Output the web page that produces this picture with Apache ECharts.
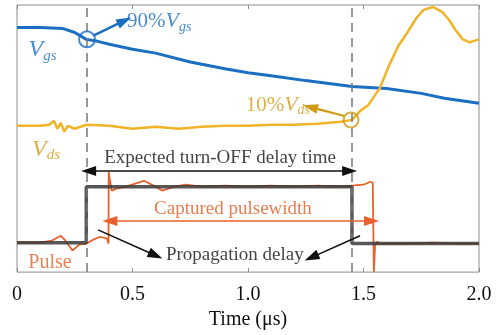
<!DOCTYPE html>
<html>
<head>
<meta charset="utf-8">
<script src="https://cdn.jsdelivr.net/npm/echarts@6/dist/echarts.min.js"></script>
<style>
  html, body { margin: 0; padding: 0; background: #fff; }
  #main { width: 497px; height: 335px; }
</style>
</head>
<body>
<div id="main"></div>
<script>
// time in us, levels in arbitrary display units (0 = bottom of plot)
const tVgs = [0, 0.1, 0.2, 0.25, 0.3, 0.35, 0.4, 0.5, 0.6, 0.75, 0.9, 1.0, 1.1, 1.25, 1.35, 1.45, 1.6, 1.75, 1.85, 2.0]
const vgs = [249, 249, 248, 244, 237, 235, 232, 227, 223, 214, 207, 203, 200, 195, 192, 189, 187, 182, 177, 172]

const tVds = [0, 0.1, 0.14, 0.16, 0.175, 0.19, 0.205, 0.22, 0.25, 0.3, 0.4, 0.5, 0.6, 0.7, 0.8, 0.9, 1.0, 1.1, 1.2, 1.3, 1.4, 1.45, 1.485, 1.52, 1.57, 1.61, 1.65, 1.69, 1.73, 1.76, 1.8, 1.84, 1.87, 1.9, 1.93, 1.96, 2.0]
const vds = [149, 149, 150, 154, 146, 152, 143, 149, 146, 150, 149, 146, 148, 146, 148, 149, 149, 150, 150, 151, 153, 155, 164, 170, 187, 210, 230, 244, 259, 267, 270, 265, 257, 246, 237, 234, 237]

const tPulse = [0, 0.1, 0.15, 0.19, 0.21, 0.24, 0.27, 0.3, 0.33, 0.36, 0.39, 0.396, 0.397, 0.40, 0.41, 0.43, 0.47, 0.55, 0.6, 0.63, 0.68, 0.73, 0.8, 0.9, 1.0, 1.1, 1.2, 1.3, 1.4, 1.45, 1.5, 1.53, 1.54, 1.545, 1.55, 1.56, 1.57, 1.7, 1.8, 1.9, 2.0]
const pulse = [30, 30, 32, 37, 32, 22, 28, 29, 33, 36, 34, 29, 102, 97, 83, 85, 87, 93, 87, 83, 87, 89, 87, 88, 87, 88, 87, 88, 87, 88, 89, 92, 91, 0, 27, 31, 29, 29, 30, 29, 29]

const tIdeal = [0, 0.3, 0.3, 1.45, 1.45, 2.0]
const ideal = [30, 30, 87, 87, 29, 29]

const xTicks = [0, 0.5, 1.0, 1.5, 2.0]
const cursorTimes = [0.3, 1.45]

const blue = '#1a6fc2'
const gold = '#f0b429'
const goldText = '#d49c18'
const orange = '#e8612c'
const serif = 'Liberation Serif'

const pairs = (xs, ys) => xs.map((x, i) => [x, ys[i]])

function arrow (from, to, color, width, both) {
  return [
    { coord: from, symbol: both ? 'triangle' : 'none', symbolSize: [10, 15], lineStyle: { color, width, type: 'solid' } },
    { coord: to, symbol: 'triangle', symbolSize: [10, 15] }
  ]
}

function note (pos, text, color, align, size) {
  return {
    value: pos,
    label: {
      show: true,
      position: 'inside',
      align: align || 'left',
      verticalAlign: 'middle',
      formatter: text,
      color,
      fontFamily: serif,
      fontSize: size || 19,
      rich: {
        n: { color, fontFamily: serif, fontSize: 21 },
        v: { color, fontFamily: serif, fontSize: 22, fontStyle: 'italic' },
        s: { color, fontFamily: serif, fontSize: 14, fontStyle: 'italic', padding: [11, 0, 0, 0] },
        V: { color, fontFamily: serif, fontSize: 24, fontStyle: 'italic' },
        S: { color, fontFamily: serif, fontSize: 15, fontStyle: 'italic', padding: [12, 0, 0, 0] }
      }
    }
  }
}

const myChart = echarts.init(document.getElementById('main'))

myChart.setOption({
  backgroundColor: '#fff',
  animation: false,
  grid: {
    left: 17, right: 18, top: 5, bottom: 58,
    show: true, borderColor: '#8c8c8c', borderWidth: 1
  },
  xAxis: [
    {
      type: 'value', min: 0, max: 2, interval: 0.5,
      name: 'Time (μs)', nameLocation: 'middle', nameGap: 37,
      nameTextStyle: { fontFamily: serif, fontSize: 20, color: '#111' },
      axisLine: { show: false },
      axisTick: { inside: true, length: 4, lineStyle: { color: '#8c8c8c' } },
      splitLine: { show: false },
      axisLabel: {
        fontFamily: serif, fontSize: 20, color: '#111', margin: 13,
        formatter: v => (xTicks.indexOf(v) >= 0 ? (v === 0 ? '0' : v.toFixed(1)) : '')
      }
    },
    {
      type: 'value', min: 0, max: 2, interval: 0.5, position: 'top',
      axisLine: { show: false },
      axisTick: { inside: true, length: 4, lineStyle: { color: '#8c8c8c' } },
      axisLabel: { show: false },
      splitLine: { show: false }
    }
  ],
  yAxis: {
    type: 'value', min: 0, max: 272, show: false
  },
  series: [
    {
      name: 'Vgs', type: 'line', showSymbol: false, z: 3,
      data: pairs(tVgs, vgs),
      lineStyle: { color: blue, width: 3 }
    },
    {
      name: 'Vds', type: 'line', showSymbol: false, z: 3,
      data: pairs(tVds, vds),
      lineStyle: { color: gold, width: 2.5 }
    },
    {
      name: 'Pulse', type: 'line', showSymbol: false, z: 3,
      data: pairs(tPulse, pulse),
      lineStyle: { color: orange, width: 1.8 }
    },
    {
      name: 'Ideal', type: 'line', showSymbol: false, z: 4,
      data: pairs(tIdeal, ideal),
      lineStyle: { color: '#3a3a3a', width: 3.5, opacity: 0.85 }
    },
    {
      name: 'cursors', type: 'line', data: [], z: 2,
      markLine: {
        silent: true,
        animation: false,
        symbol: ['none', 'none'],
        label: { show: false },
        lineStyle: { color: '#777', width: 1.5, type: [9, 6] },
        data: cursorTimes.map(t => ({ xAxis: t }))
      }
    },
    {
      name: 'arrows', type: 'line', data: [], z: 5,
      markLine: {
        silent: true,
        animation: false,
        label: { show: false },
        data: [
          arrow([0.333, 241], [0.465, 256], blue, 2.5),
          arrow([1.418, 159], [1.27, 168], '#d09a14', 2.2),
          arrow([0.31, 103], [1.44, 103], '#111', 1.6, true),
          arrow([0.402, 52], [1.535, 52], orange, 1.6, true),
          arrow([0.351, 43], [0.6, 17], '#111', 1.6),
          arrow([1.485, 37], [1.275, 15], '#111', 1.6)
        ]
      }
    },
    {
      name: 'marks', type: 'scatter', z: 5, silent: true,
      symbol: 'circle', symbolSize: 16,
      itemStyle: { color: 'transparent', borderColor: blue, borderWidth: 2 },
      data: [
        { value: [0.303, 237] },
        { value: [1.446, 155], symbolSize: 15, itemStyle: { color: 'transparent', borderColor: '#d09a14', borderWidth: 2 } }
      ]
    },
    {
      name: 'notes', type: 'scatter', z: 6, silent: true, symbolSize: 0,
      data: [
        note([0.476, 255], '{n|90%}{v|V}{s|gs}', blue),
        note([0.05, 226], '{V|V}{S|gs}', blue),
        note([0.065, 125], '{V|V}{S|ds}', goldText),
        note([0.99, 170], '{n|10%}{v|V}{s|ds}', goldText),
        note([0.879, 116], 'Expected turn-OFF delay time', '#111', 'center'),
        note([0.935, 64], 'Captured pulsewidth', '#e35a22', 'center'),
        note([0.943, 17], 'Propagation delay', '#111', 'center'),
        note([0.143, 10], 'Pulse', orange, 'center', 20)
      ]
    }
  ]
})
</script>
</body>
</html>
